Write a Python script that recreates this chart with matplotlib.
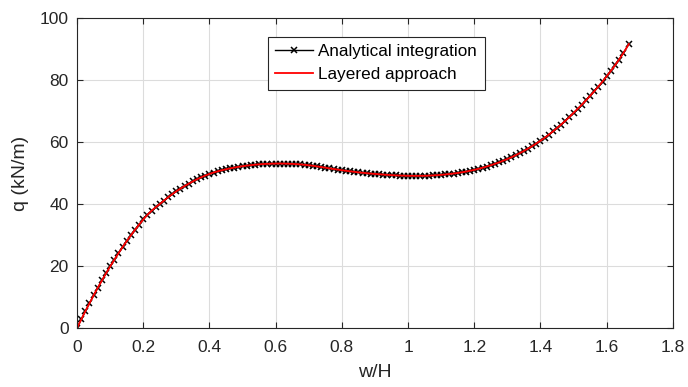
import matplotlib
matplotlib.use("Agg")
import matplotlib.pyplot as plt

plt.rcParams['font.family'] = ['Liberation Sans', 'DejaVu Sans']

# normalised deflection w/H
w_H = [0.0, 0.0125, 0.025, 0.0375, 0.05, 0.0625, 0.075, 0.0875,
       0.1, 0.1125, 0.125, 0.1375, 0.15, 0.1625, 0.175, 0.1875,
       0.2, 0.2125, 0.225, 0.2375, 0.25, 0.2625, 0.275, 0.2875,
       0.3, 0.3125, 0.325, 0.3375, 0.35, 0.3625, 0.375, 0.3875,
       0.4, 0.4125, 0.425, 0.4375, 0.45, 0.4625, 0.475, 0.4875,
       0.5, 0.5125, 0.525, 0.5375, 0.55, 0.5625, 0.575, 0.5875,
       0.6, 0.6125, 0.625, 0.6375, 0.65, 0.6625, 0.675, 0.6875,
       0.7, 0.7125, 0.725, 0.7375, 0.75, 0.7625, 0.775, 0.7875,
       0.8, 0.8125, 0.825, 0.8375, 0.85, 0.8625, 0.875, 0.8875,
       0.9, 0.9125, 0.925, 0.9375, 0.95, 0.9625, 0.975, 0.9875,
       1.0, 1.0125, 1.025, 1.0375, 1.05, 1.0625, 1.075, 1.0875,
       1.1, 1.1125, 1.125, 1.1375, 1.15, 1.1625, 1.175, 1.1875,
       1.2, 1.2125, 1.225, 1.2375, 1.25, 1.2625, 1.275, 1.2875,
       1.3, 1.3125, 1.325, 1.3375, 1.35, 1.3625, 1.375, 1.3875,
       1.4, 1.4125, 1.425, 1.4375, 1.45, 1.4625, 1.475, 1.4875,
       1.5, 1.5125, 1.525, 1.5375, 1.55, 1.5625, 1.575, 1.5875,
       1.6, 1.6125, 1.625, 1.6375, 1.65, 1.667]

# load q (kN/m)
q_analytical = [0.0, 2.74, 5.40, 7.99, 10.51, 12.96, 15.33, 17.63,
                19.85, 22.00, 24.08, 26.08, 28.01, 29.87, 31.65, 33.36,
                35.0, 36.5, 37.8, 38.95, 40.0, 41.1, 42.15, 43.15,
                44.1, 44.97, 45.79, 46.56, 47.3, 47.98, 48.6, 49.17,
                49.7, 50.15, 50.54, 50.89, 51.2, 51.49, 51.75, 51.99,
                52.2, 52.38, 52.54, 52.68, 52.8, 52.89, 52.96, 53.01,
                53.05, 53.06, 53.04, 53.0, 52.95, 52.87, 52.77, 52.65,
                52.5, 52.33, 52.14, 51.93, 51.7, 51.49, 51.29, 51.09,
                50.9, 50.71, 50.53, 50.36, 50.2, 50.06, 49.93, 49.81,
                49.7, 49.59, 49.49, 49.39, 49.3, 49.23, 49.18, 49.13,
                49.1, 49.08, 49.08, 49.08, 49.1, 49.14, 49.21, 49.3,
                49.4, 49.52, 49.66, 49.82, 50.0, 50.21, 50.45, 50.71,
                51.0, 51.33, 51.69, 52.08, 52.5, 52.95, 53.43, 53.95,
                54.5, 55.09, 55.72, 56.39, 57.1, 57.86, 58.66, 59.51,
                60.4, 61.34, 62.34, 63.39, 64.5, 65.63, 66.83, 68.08,
                69.4, 70.68, 72.02, 73.43, 74.9, 76.36, 77.9, 79.51,
                81.2, 82.9, 84.7, 86.6, 88.6, 91.6]

q_layered = list(q_analytical)

x_ticks = [0, 0.2, 0.4, 0.6, 0.8, 1.0, 1.2, 1.4, 1.6, 1.8]
x_tick_labels = ['0', '0.2', '0.4', '0.6', '0.8', '1', '1.2', '1.4', '1.6', '1.8']
y_ticks = [0, 20, 40, 60, 80, 100]

axis_color = '#262626'

fig = plt.figure(figsize=(6.88, 3.87), dpi=100)
ax = fig.add_axes([0.112, 0.1525, 0.866, 0.801])

ax.plot(w_H, q_analytical, color='black', lw=1.0, marker='x',
        markersize=4, markeredgewidth=1.1, label='Analytical integration')
ax.plot(w_H, q_layered, color='red', lw=1.3, label='Layered approach')

ax.set_xlim(0, 1.8)
ax.set_ylim(0, 100)
ax.set_xticks(x_ticks)
ax.set_xticklabels(x_tick_labels)
ax.set_yticks(y_ticks)

ax.grid(True, color='#dcdcdc', lw=0.8)
ax.set_axisbelow(True)
ax.tick_params(direction='in', top=True, right=True, length=4,
               labelsize=12.5, colors=axis_color)
ax.tick_params(axis='x', pad=9)
ax.tick_params(axis='y', pad=6)
for s in ax.spines.values():
    s.set_color(axis_color)
    s.set_linewidth(0.8)

ax.set_xlabel('w/H', fontsize=14, color=axis_color, labelpad=6)
ax.set_ylabel('q (kN/m)', fontsize=14, color=axis_color, labelpad=8)

leg = ax.legend(loc='upper left', bbox_to_anchor=(0.32, 0.94), fontsize=12.3,
                fancybox=False, framealpha=1, edgecolor=axis_color,
                handlelength=2.2, handletextpad=0.3, borderpad=0.45,
                labelspacing=0.45, borderaxespad=0)
leg.get_frame().set_linewidth(0.8)

plt.savefig('out.png', dpi=100)
